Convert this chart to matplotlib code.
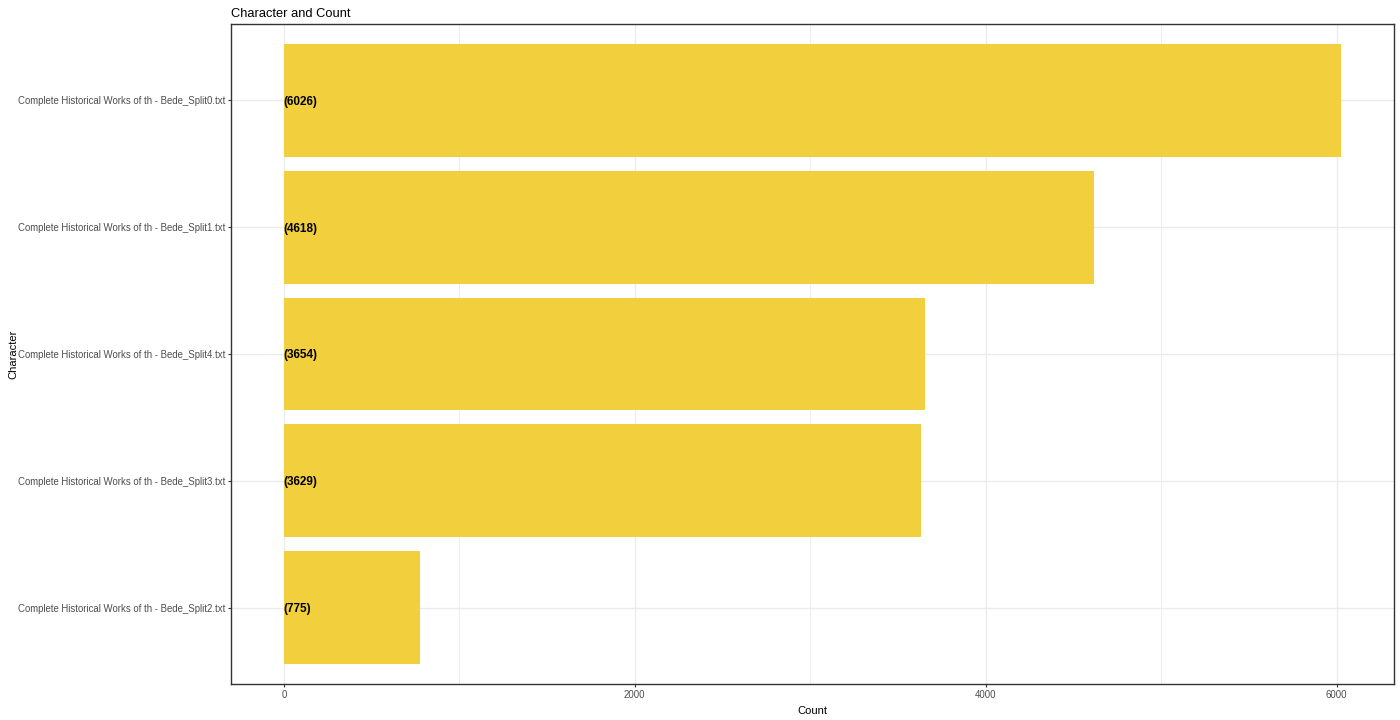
import matplotlib
matplotlib.use('Agg')
import matplotlib.pyplot as plt
from matplotlib.ticker import MultipleLocator

plt.rcParams['font.family'] = ['Liberation Sans', 'DejaVu Sans']

# data, top to bottom
files = [
    'Complete Historical Works of th - Bede_Split0.txt',
    'Complete Historical Works of th - Bede_Split1.txt',
    'Complete Historical Works of th - Bede_Split4.txt',
    'Complete Historical Works of th - Bede_Split3.txt',
    'Complete Historical Works of th - Bede_Split2.txt',
]
counts = [6026, 4618, 3654, 3629, 775]

bar_color = '#F2CF3D'
grid_color = '#EBEBEB'

fig = plt.figure(figsize=(14, 7.2), dpi=100)
ax = fig.add_axes([0.165, 0.05, 0.8307, 0.9167])

n = len(files)
ypos = list(range(n, 0, -1))
ax.barh(ypos, counts, height=0.89, color=bar_color, zorder=2)

for y, c in zip(ypos, counts):
    ax.text(0, y, f'({c})', ha='left', va='center_baseline', fontsize=8.5,
            fontweight='bold', color='black', zorder=3)

span = max(counts)
ax.set_xlim(-0.05 * span, 1.05 * span)
ax.set_ylim(0.4, n + 0.6)

ax.xaxis.set_major_locator(MultipleLocator(2000))
ax.xaxis.set_minor_locator(MultipleLocator(1000))
ax.set_yticks(ypos)
ax.set_yticklabels(files)

ax.grid(which='major', color=grid_color, linewidth=1.0, zorder=0)
ax.grid(which='minor', axis='x', color=grid_color, linewidth=0.6, zorder=0)
ax.set_axisbelow(True)

ax.tick_params(axis='both', which='major', labelsize=6.9, colors='#333333',
               labelcolor='#4D4D4D', length=2.5, width=0.8, pad=1.5)
ax.tick_params(axis='both', which='minor', length=0)
for s in ax.spines.values():
    s.set_color('#333333')
    s.set_linewidth(1.0)

ax.set_xlabel('Count', fontsize=8)
ax.set_ylabel('Character', fontsize=8)
ax.xaxis.set_label_coords(0.5, -0.033)
ax.yaxis.set_label_coords(-0.183, 0.5)
ax.set_title('Character and Count', fontsize=9.3, loc='left', pad=5)

fig.savefig('out.png', dpi=100)
